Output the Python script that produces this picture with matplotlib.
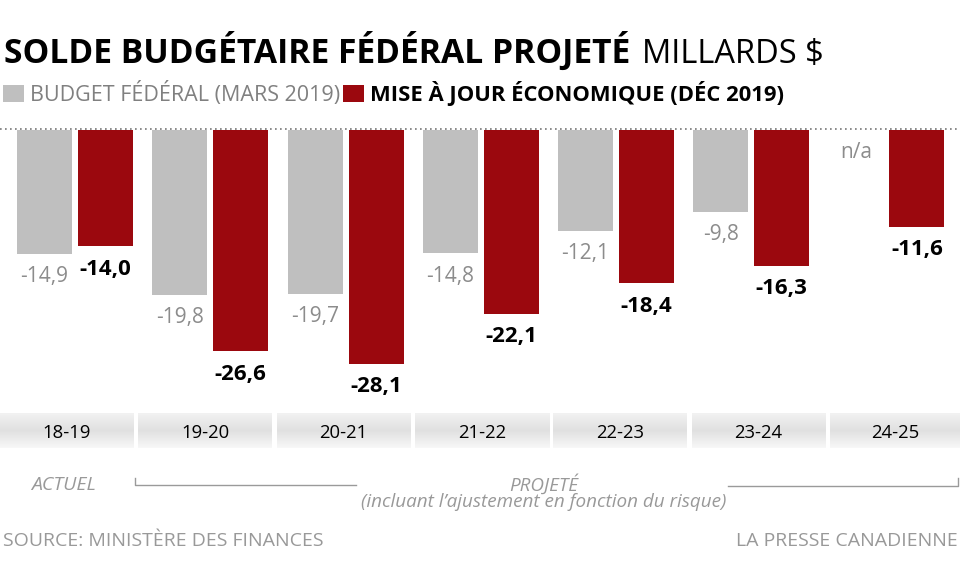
import numpy as np
import matplotlib.pyplot as plt

# données (milliards $)
periodes = ['18-19', '19-20', '20-21', '21-22', '22-23', '23-24', '24-25']
budget_mars = [-14.9, -19.8, -19.7, -14.8, -12.1, -9.8, np.nan]
maj_dec = [-14.0, -26.6, -28.1, -22.1, -18.4, -16.3, -11.6]

GRIS = '#bfbfbf'
ROUGE = '#9b080e'
GRIS_TXT = '#8c8c8c'

plt.rcParams['font.family'] = ['Open Sans', 'DejaVu Sans']

W, H = 960, 563
fig = plt.figure(figsize=(W / 100, H / 100), dpi=100)

# axe de decor en pixels
deco = fig.add_axes([0, 0, 1, 1])
deco.set_xlim(0, W)
deco.set_ylim(H, 0)
deco.axis('off')

# axe des barres (valeurs)
pas = 135.25       # px par groupe
x0 = 75.0          # centre du premier groupe
ppu = 8.32         # px par milliard
y0 = 130.0         # ligne zero
ax = fig.add_axes([0, 0, 1, 1])
ax.set_xlim(-x0 / pas, (W - x0) / pas)
ax.set_ylim(-(H - y0) / ppu, y0 / ppu)
ax.axis('off')
ax.patch.set_alpha(0)

x = np.arange(len(periodes))
dx = 30.5 / pas
bw = 55 / pas
ax.bar(x - dx, budget_mars, bw, color=GRIS, zorder=2)
ax.bar(x + dx, maj_dec, bw, color=ROUGE, zorder=2)
ax.axhline(0.1, color='#777777', lw=1.2, ls=(0, (1, 2)), zorder=3)

off = 12.5 / ppu
for i in x:
    v = budget_mars[i]
    if np.isnan(v):
        ax.text(i - dx, -1.5, 'n/a', ha='center', va='top', fontsize=15,
                color=GRIS_TXT)
    else:
        ax.text(i - dx, v - off, f'{v:.1f}'.replace('.', ','), ha='center',
                va='top', fontsize=15, color=GRIS_TXT)
    r = maj_dec[i]
    ax.text(i + dx, r - off, f'{r:.1f}'.replace('.', ','), ha='center',
            va='top', fontsize=16, fontweight='bold', color='black')

# titre et legende
deco.text(4, 63, 'SOLDE BUDGÉTAIRE FÉDÉRAL PROJETÉ', fontsize=24.2,
          fontweight='bold', va='baseline', ha='left')
deco.text(642, 63, 'MILLARDS $', fontsize=23.5, va='baseline', ha='left')
deco.add_patch(plt.Rectangle((3, 85), 21, 17, color=GRIS, lw=0))
deco.text(30, 101.5, 'BUDGET FÉDÉRAL (MARS 2019)', fontsize=15.5,
          color='#808080', va='baseline')
deco.add_patch(plt.Rectangle((343, 85), 21, 17, color=ROUGE, lw=0))
deco.text(370, 101.5, 'MISE À JOUR ÉCONOMIQUE (DÉC 2019)', fontsize=15.8,
          fontweight='bold', va='baseline')

# bande des periodes
grad = np.interp(np.linspace(0, 1, 60), [0, 0.5, 1], [0.95, 0.88, 0.97])
grad = np.repeat(grad[:, None], 3, axis=1)[:, None, :]
for i, p in enumerate(periodes):
    left = 138.3 * i
    right = min(left + 134, W)
    deco.imshow(grad, extent=(left, right, 448, 413), aspect='auto',
                interpolation='bilinear', zorder=1)
    deco.text((left + right) / 2, 438, p, ha='center', va='baseline',
              fontsize=13.3, zorder=2)
deco.set_xlim(0, W)
deco.set_ylim(H, 0)

# actuel / projete
deco.text(64, 490, 'ACTUEL', ha='center', va='baseline', fontsize=14,
          style='italic', color='#999999')
deco.plot([135, 135, 356], [478, 485, 485], color='#9a9a9a', lw=1)
deco.plot([728, 958, 958], [486, 486, 478], color='#9a9a9a', lw=1)
deco.text(544, 491, 'PROJETÉ', ha='center', va='baseline', fontsize=13.6,
          style='italic', color='#999999')
deco.text(544, 507, '(incluant l’ajustement en fonction du risque)',
          ha='center', va='baseline', fontsize=13.6, style='italic',
          color='#999999')

# sources
deco.text(3, 546, 'SOURCE: MINISTÈRE DES FINANCES', fontsize=14,
          color='#999999', va='baseline')
deco.text(958, 546, 'LA PRESSE CANADIENNE', fontsize=14, color='#999999',
          va='baseline', ha='right')

fig.savefig('out.png', dpi=100)
